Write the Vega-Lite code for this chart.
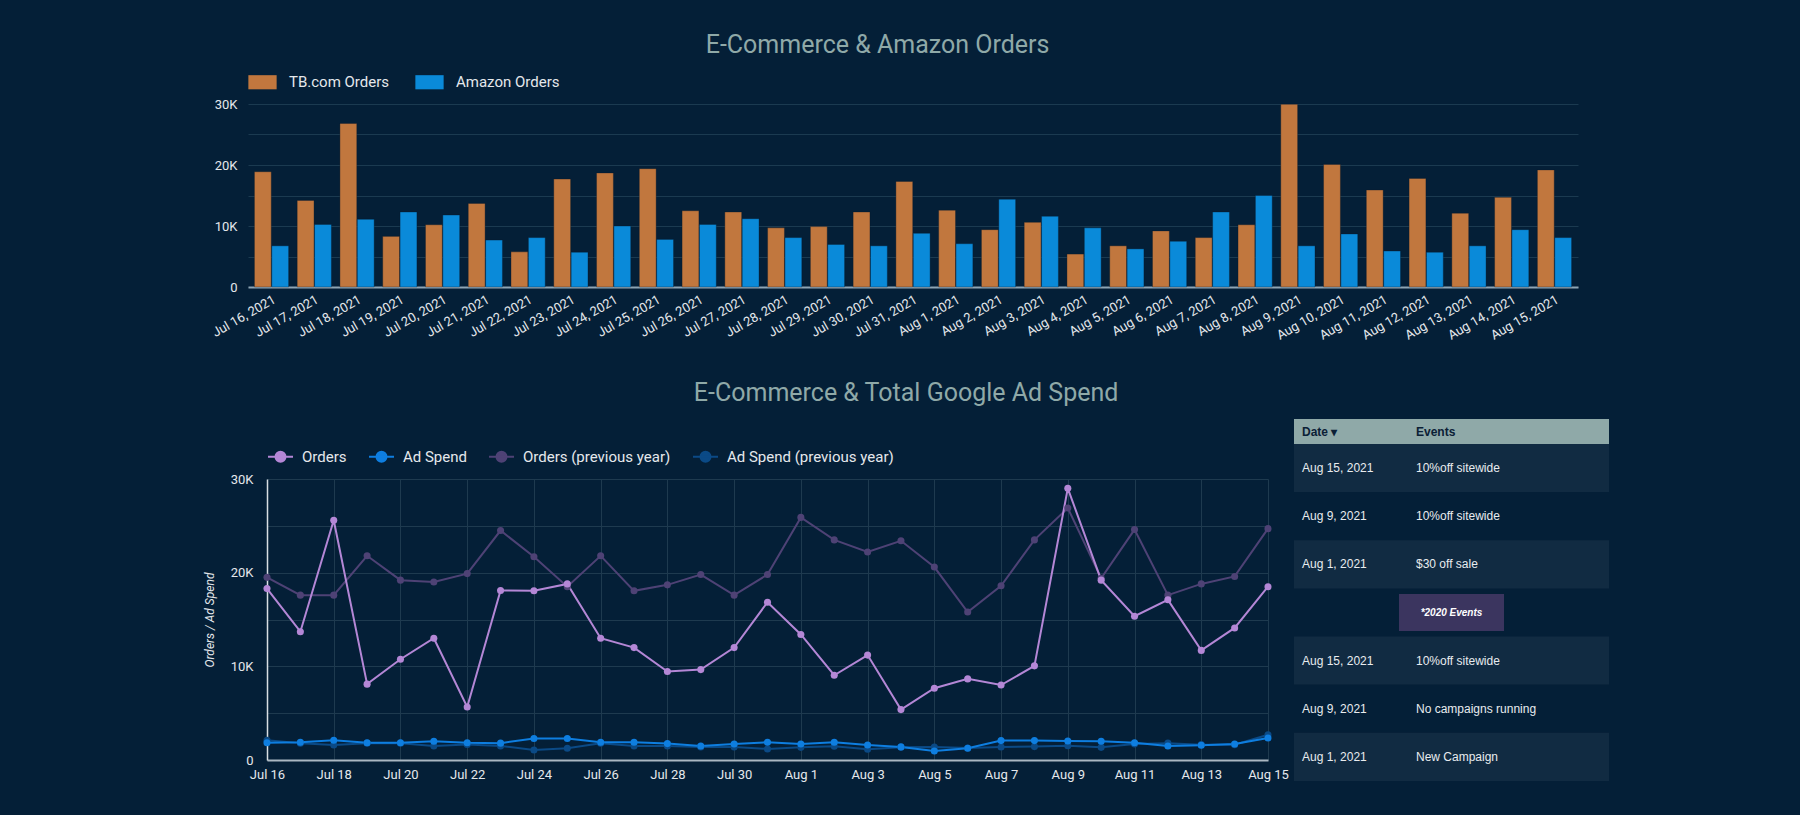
{
  "$schema": "https://vega.github.io/schema/vega-lite/v6.json",
  "background": "#041f37",
  "padding": {"left": 203, "top": 32, "right": 192, "bottom": 34},
  "config": {
    "font": "Roboto",
    "view": {"stroke": null},
    "axis": {"labelColor": "#e4e8ec", "labelFont": "Roboto", "labelFontSize": 13, "titleColor": "#e4e8ec", "titleFont": "Roboto", "ticks": false, "domain": false, "gridColor": "#1b3a50", "gridWidth": 1},
    "legend": {"labelColor": "#e4e8ec", "labelFontSize": 15, "labelFont": "Roboto", "labelLimit": 400},
    "title": {"color": "#8fa9a8", "fontSize": 25, "fontWeight": "normal", "font": "Roboto"}
  },
  "datasets": {
    "bars": [
      {"d": "Jul 16, 2021", "s": "TB.com Orders", "v": 18900}, {"d": "Jul 16, 2021", "s": "Amazon Orders", "v": 6750},
      {"d": "Jul 17, 2021", "s": "TB.com Orders", "v": 14200}, {"d": "Jul 17, 2021", "s": "Amazon Orders", "v": 10260},
      {"d": "Jul 18, 2021", "s": "TB.com Orders", "v": 26800}, {"d": "Jul 18, 2021", "s": "Amazon Orders", "v": 11100},
      {"d": "Jul 19, 2021", "s": "TB.com Orders", "v": 8300}, {"d": "Jul 19, 2021", "s": "Amazon Orders", "v": 12300},
      {"d": "Jul 20, 2021", "s": "TB.com Orders", "v": 10200}, {"d": "Jul 20, 2021", "s": "Amazon Orders", "v": 11800},
      {"d": "Jul 21, 2021", "s": "TB.com Orders", "v": 13700}, {"d": "Jul 21, 2021", "s": "Amazon Orders", "v": 7700},
      {"d": "Jul 22, 2021", "s": "TB.com Orders", "v": 5760}, {"d": "Jul 22, 2021", "s": "Amazon Orders", "v": 8100},
      {"d": "Jul 23, 2021", "s": "TB.com Orders", "v": 17700}, {"d": "Jul 23, 2021", "s": "Amazon Orders", "v": 5700},
      {"d": "Jul 24, 2021", "s": "TB.com Orders", "v": 18700}, {"d": "Jul 24, 2021", "s": "Amazon Orders", "v": 10000},
      {"d": "Jul 25, 2021", "s": "TB.com Orders", "v": 19400}, {"d": "Jul 25, 2021", "s": "Amazon Orders", "v": 7800},
      {"d": "Jul 26, 2021", "s": "TB.com Orders", "v": 12500}, {"d": "Jul 26, 2021", "s": "Amazon Orders", "v": 10260},
      {"d": "Jul 27, 2021", "s": "TB.com Orders", "v": 12300}, {"d": "Jul 27, 2021", "s": "Amazon Orders", "v": 11200},
      {"d": "Jul 28, 2021", "s": "TB.com Orders", "v": 9700}, {"d": "Jul 28, 2021", "s": "Amazon Orders", "v": 8100},
      {"d": "Jul 29, 2021", "s": "TB.com Orders", "v": 9900}, {"d": "Jul 29, 2021", "s": "Amazon Orders", "v": 6970},
      {"d": "Jul 30, 2021", "s": "TB.com Orders", "v": 12300}, {"d": "Jul 30, 2021", "s": "Amazon Orders", "v": 6750},
      {"d": "Jul 31, 2021", "s": "TB.com Orders", "v": 17300}, {"d": "Jul 31, 2021", "s": "Amazon Orders", "v": 8800},
      {"d": "Aug 1, 2021", "s": "TB.com Orders", "v": 12600}, {"d": "Aug 1, 2021", "s": "Amazon Orders", "v": 7100},
      {"d": "Aug 2, 2021", "s": "TB.com Orders", "v": 9400}, {"d": "Aug 2, 2021", "s": "Amazon Orders", "v": 14400},
      {"d": "Aug 3, 2021", "s": "TB.com Orders", "v": 10600}, {"d": "Aug 3, 2021", "s": "Amazon Orders", "v": 11600},
      {"d": "Aug 4, 2021", "s": "TB.com Orders", "v": 5400}, {"d": "Aug 4, 2021", "s": "Amazon Orders", "v": 9700},
      {"d": "Aug 5, 2021", "s": "TB.com Orders", "v": 6750}, {"d": "Aug 5, 2021", "s": "Amazon Orders", "v": 6250},
      {"d": "Aug 6, 2021", "s": "TB.com Orders", "v": 9200}, {"d": "Aug 6, 2021", "s": "Amazon Orders", "v": 7500},
      {"d": "Aug 7, 2021", "s": "TB.com Orders", "v": 8100}, {"d": "Aug 7, 2021", "s": "Amazon Orders", "v": 12300},
      {"d": "Aug 8, 2021", "s": "TB.com Orders", "v": 10200}, {"d": "Aug 8, 2021", "s": "Amazon Orders", "v": 15000},
      {"d": "Aug 9, 2021", "s": "TB.com Orders", "v": 29950}, {"d": "Aug 9, 2021", "s": "Amazon Orders", "v": 6750},
      {"d": "Aug 10, 2021", "s": "TB.com Orders", "v": 20100}, {"d": "Aug 10, 2021", "s": "Amazon Orders", "v": 8700},
      {"d": "Aug 11, 2021", "s": "TB.com Orders", "v": 15900}, {"d": "Aug 11, 2021", "s": "Amazon Orders", "v": 5900},
      {"d": "Aug 12, 2021", "s": "TB.com Orders", "v": 17800}, {"d": "Aug 12, 2021", "s": "Amazon Orders", "v": 5700},
      {"d": "Aug 13, 2021", "s": "TB.com Orders", "v": 12100}, {"d": "Aug 13, 2021", "s": "Amazon Orders", "v": 6750},
      {"d": "Aug 14, 2021", "s": "TB.com Orders", "v": 14700}, {"d": "Aug 14, 2021", "s": "Amazon Orders", "v": 9400},
      {"d": "Aug 15, 2021", "s": "TB.com Orders", "v": 19200}, {"d": "Aug 15, 2021", "s": "Amazon Orders", "v": 8100}
    ],
    "lines": [
      {"d": "Jul 16", "Orders": 18300, "Ad Spend": 1850, "Orders (previous year)": 19500, "Ad Spend (previous year)": 2100},
      {"d": "Jul 17", "Orders": 13700, "Ad Spend": 1900, "Orders (previous year)": 17600, "Ad Spend (previous year)": 1800},
      {"d": "Jul 18", "Orders": 25600, "Ad Spend": 2100, "Orders (previous year)": 17600, "Ad Spend (previous year)": 1600},
      {"d": "Jul 19", "Orders": 8100, "Ad Spend": 1850, "Orders (previous year)": 21800, "Ad Spend (previous year)": 1800},
      {"d": "Jul 20", "Orders": 10760, "Ad Spend": 1850, "Orders (previous year)": 19200, "Ad Spend (previous year)": 1800},
      {"d": "Jul 21", "Orders": 13000, "Ad Spend": 2000, "Orders (previous year)": 19000, "Ad Spend (previous year)": 1500},
      {"d": "Jul 22", "Orders": 5660, "Ad Spend": 1850, "Orders (previous year)": 19900, "Ad Spend (previous year)": 1650},
      {"d": "Jul 23", "Orders": 18100, "Ad Spend": 1800, "Orders (previous year)": 24500, "Ad Spend (previous year)": 1500},
      {"d": "Jul 24", "Orders": 18060, "Ad Spend": 2300, "Orders (previous year)": 21700, "Ad Spend (previous year)": 1070},
      {"d": "Jul 25", "Orders": 18800, "Ad Spend": 2300, "Orders (previous year)": 18500, "Ad Spend (previous year)": 1250},
      {"d": "Jul 26", "Orders": 13000, "Ad Spend": 1900, "Orders (previous year)": 21800, "Ad Spend (previous year)": 1800},
      {"d": "Jul 27", "Orders": 12000, "Ad Spend": 1900, "Orders (previous year)": 18060, "Ad Spend (previous year)": 1500},
      {"d": "Jul 28", "Orders": 9440, "Ad Spend": 1750, "Orders (previous year)": 18700, "Ad Spend (previous year)": 1500},
      {"d": "Jul 29", "Orders": 9650, "Ad Spend": 1500, "Orders (previous year)": 19800, "Ad Spend (previous year)": 1400},
      {"d": "Jul 30", "Orders": 12000, "Ad Spend": 1700, "Orders (previous year)": 17600, "Ad Spend (previous year)": 1400},
      {"d": "Jul 31", "Orders": 16850, "Ad Spend": 1900, "Orders (previous year)": 19800, "Ad Spend (previous year)": 1180},
      {"d": "Aug 1", "Orders": 13400, "Ad Spend": 1700, "Orders (previous year)": 25900, "Ad Spend (previous year)": 1350},
      {"d": "Aug 2", "Orders": 9050, "Ad Spend": 1900, "Orders (previous year)": 23500, "Ad Spend (previous year)": 1460},
      {"d": "Aug 3", "Orders": 11200, "Ad Spend": 1600, "Orders (previous year)": 22200, "Ad Spend (previous year)": 1140},
      {"d": "Aug 4", "Orders": 5380, "Ad Spend": 1400, "Orders (previous year)": 23400, "Ad Spend (previous year)": 1350},
      {"d": "Aug 5", "Orders": 7660, "Ad Spend": 960, "Orders (previous year)": 20600, "Ad Spend (previous year)": 1390},
      {"d": "Aug 6", "Orders": 8660, "Ad Spend": 1250, "Orders (previous year)": 15800, "Ad Spend (previous year)": 1280},
      {"d": "Aug 7", "Orders": 8000, "Ad Spend": 2070, "Orders (previous year)": 18600, "Ad Spend (previous year)": 1390},
      {"d": "Aug 8", "Orders": 10050, "Ad Spend": 2070, "Orders (previous year)": 23500, "Ad Spend (previous year)": 1430},
      {"d": "Aug 9", "Orders": 29000, "Ad Spend": 2030, "Orders (previous year)": 26900, "Ad Spend (previous year)": 1530},
      {"d": "Aug 10", "Orders": 19200, "Ad Spend": 2000, "Orders (previous year)": 19400, "Ad Spend (previous year)": 1350},
      {"d": "Aug 11", "Orders": 15350, "Ad Spend": 1850, "Orders (previous year)": 24600, "Ad Spend (previous year)": 1700},
      {"d": "Aug 12", "Orders": 17100, "Ad Spend": 1500, "Orders (previous year)": 17600, "Ad Spend (previous year)": 1800},
      {"d": "Aug 13", "Orders": 11700, "Ad Spend": 1570, "Orders (previous year)": 18800, "Ad Spend (previous year)": 1640},
      {"d": "Aug 14", "Orders": 14100, "Ad Spend": 1700, "Orders (previous year)": 19600, "Ad Spend (previous year)": 1640},
      {"d": "Aug 15", "Orders": 18500, "Ad Spend": 2350, "Orders (previous year)": 24700, "Ad Spend (previous year)": 2700}
    ],
    "events": [
      {"row": "1", "Date": "Aug 15, 2021", "Events": "10%off sitewide"},
      {"row": "2", "Date": "Aug 9, 2021", "Events": "10%off sitewide"},
      {"row": "3", "Date": "Aug 1, 2021", "Events": "$30 off sale"},
      {"row": "4", "Date": "Aug 15, 2021", "Events": "10%off sitewide"},
      {"row": "5", "Date": "Aug 9, 2021", "Events": "No campaigns running"},
      {"row": "6", "Date": "Aug 1, 2021", "Events": "New Campaign"}
    ]
  },
  "columns": 1,
  "spacing": 38,
  "resolve": {"scale": {"color": "independent"}, "legend": {"color": "independent"}},
  "concat": [
    {
      "name": "bc",
      "title": {"text": "E-Commerce & Amazon Orders", "anchor": "middle", "frame": "bounds", "dx": -26, "offset": 10},
      "width": 1311,
      "height": 183,
      "data": {"name": "bars"},
      "mark": {"type": "bar", "stroke": "#0b1a2a", "strokeOpacity": 0.5, "strokeWidth": 0.7},
      "encoding": {
        "x": {
          "field": "d", "type": "ordinal", "sort": null, "title": null,
          "scale": {"range": [-19, 1311], "paddingInner": 0.2, "paddingOuter": 0.15},
          "axis": {"labelAngle": -30, "labelAlign": "right", "labelBaseline": "top", "labelPadding": 6, "labelOverlap": false, "domain": true, "domainColor": "#8ea5b5", "domainWidth": 2, "grid": false}
        },
        "xOffset": {"field": "s", "type": "nominal", "sort": ["TB.com Orders", "Amazon Orders"], "scale": {"paddingInner": 0.03}},
        "y": {
          "field": "v", "type": "quantitative", "title": null,
          "scale": {"domain": [0, 30000], "nice": false},
          "axis": {"values": [0, 5000, 10000, 15000, 20000, 25000, 30000], "labelExpr": "datum.value === 0 ? '0' : (datum.value % 10000 === 0 ? (datum.value / 1000) + 'K' : '')", "labelPadding": 30, "grid": true}
        },
        "color": {
          "field": "s", "type": "nominal", "title": null,
          "scale": {"domain": ["TB.com Orders", "Amazon Orders"], "range": ["#c1773e", "#0a8ad9"]},
          "legend": {"orient": "none", "legendX": -19, "legendY": -36.5, "direction": "horizontal", "symbolType": "M-1,-0.5H1V0.5H-1Z", "symbolSize": 800, "symbolStrokeWidth": 0, "symbolOpacity": 1, "labelOffset": 12, "columnPadding": 25, "padding": 0}
        }
      }
    },
    {
      "title": {"text": "E-Commerce & Total Google Ad Spend", "anchor": "middle", "frame": "bounds", "offset": 10.5},
      "columns": 2,
      "spacing": 5,
      "resolve": {"scale": {"color": "independent"}, "legend": {"color": "independent"}},
      "concat": [
        {
          "vconcat": [
            {
              "width": 1001,
              "height": 1,
              "data": {"values": [{"a": 1}]},
              "mark": {"type": "point", "opacity": 0}
            },
            {
              "name": "lc",
              "width": 1001,
              "height": 281,
              "data": {"name": "lines"},
              "transform": [{"fold": ["Orders (previous year)", "Ad Spend (previous year)", "Orders", "Ad Spend"], "as": ["series", "value"]}],
              "mark": {"type": "line", "strokeWidth": 2, "point": {"filled": true, "size": 50, "opacity": 1}},
              "encoding": {
                "x": {
                  "field": "d", "type": "ordinal", "sort": null, "title": null,
                  "scale": {"type": "point", "padding": 0},
                  "axis": {"values": ["Jul 16", "Jul 18", "Jul 20", "Jul 22", "Jul 24", "Jul 26", "Jul 28", "Jul 30", "Aug 1", "Aug 3", "Aug 5", "Aug 7", "Aug 9", "Aug 11", "Aug 13", "Aug 15"], "labelAngle": 0, "labelPadding": 8, "grid": true, "gridColor": "#1e3a4f", "domain": true, "domainColor": "#aab7c2", "domainWidth": 2, "labelOverlap": false}
                },
                "y": {
                  "field": "value", "type": "quantitative", "title": "Orders / Ad Spend",
                  "scale": {"domain": [0, 30000], "nice": false},
                  "axis": {"values": [0, 5000, 10000, 15000, 20000, 25000, 30000], "labelExpr": "datum.value === 0 ? '0' : (datum.value % 10000 === 0 ? (datum.value / 1000) + 'K' : '')", "labelPadding": 14, "titleFontStyle": "italic", "titleFontWeight": "normal", "titleFontSize": 12, "titlePadding": 14, "domain": true, "domainColor": "#d8dee3", "domainWidth": 1.5, "grid": true, "gridColor": "#1e3a4f"}
                },
                "color": {
                  "field": "series", "type": "nominal", "title": null,
                  "scale": {"domain": ["Orders", "Ad Spend", "Orders (previous year)", "Ad Spend (previous year)"], "range": ["#b487d6", "#0e7ee0", "#4e4275", "#0b4a86"]},
                  "legend": {"orient": "top", "direction": "horizontal", "symbolType": "M-1,0H1M-0.4,0A0.4,0.4,0,1,1,0.4,0A0.4,0.4,0,1,1,-0.4,0Z", "symbolSize": 625, "symbolStrokeWidth": 2, "symbolOpacity": 1, "labelOffset": 8, "columnPadding": 18, "padding": 0, "offset": 13,
                    "encode": {"symbols": {"update": {"fill": {"scale": "lc_color", "field": "value"}}}}}
                }
              }
            }
          ],
          "spacing": 20,
          "resolve": {"scale": {"color": "independent"}, "legend": {"color": "independent"}}
        },
        {
          "vconcat": [
            {
              "width": 315,
              "height": 25,
              "view": {"fill": "#8fa9a8", "stroke": null},
              "data": {"values": [{"col": "Date", "t": "Date ▾"}, {"col": "Events", "t": "Events"}]},
              "mark": {"type": "text", "align": "left", "baseline": "middle", "font": "Liberation Sans", "fontSize": 12, "fontWeight": "bold", "color": "#0b2036"},
              "encoding": {
                "x": {"field": "col", "type": "nominal", "scale": {"type": "point", "domain": ["Date", "Events"], "range": [8, 122], "padding": 0}, "axis": null},
                "text": {"field": "t"}
              }
            },
            {
              "width": 315,
              "height": 337,
              "layer": [
                {
                  "data": {"name": "events"},
                  "mark": {"type": "rect"},
                  "encoding": {
                    "y": {"field": "row", "type": "nominal", "scale": {"domain": ["1", "2", "3", "L", "4", "5", "6"], "paddingInner": 0, "paddingOuter": 0}, "axis": null},
                    "color": {"field": "row", "type": "nominal", "scale": {"domain": ["1", "2", "3", "L", "4", "5", "6"], "range": ["#112b42", "#041f37", "#112b42", "#041f37", "#112b42", "#041f37", "#112b42"]}, "legend": null}
                  }
                },
                {
                  "data": {"name": "events"},
                  "transform": [{"fold": ["Date", "Events"], "as": ["col", "t"]}],
                  "mark": {"type": "text", "align": "left", "baseline": "middle", "font": "Liberation Sans", "fontSize": 12, "color": "#e8ecef"},
                  "encoding": {
                    "y": {"field": "row", "type": "nominal"},
                    "x": {"field": "col", "type": "nominal", "scale": {"type": "point", "domain": ["Date", "Events"], "range": [8, 122], "padding": 0}, "axis": null},
                    "text": {"field": "t"}
                  }
                },
                {
                  "data": {"values": [{"row": "L", "label": "*2020 Events"}]},
                  "mark": {"type": "point", "shape": "M-1,-0.352H1V0.352H-1Z", "size": 11025, "filled": true, "color": "#3b355f", "opacity": 1},
                  "encoding": {"y": {"field": "row", "type": "nominal"}}
                },
                {
                  "data": {"values": [{"row": "L", "label": "*2020 Events"}]},
                  "mark": {"type": "text", "fontStyle": "italic", "fontWeight": "bold", "fontSize": 10, "color": "#ffffff", "font": "Liberation Sans"},
                  "encoding": {"y": {"field": "row", "type": "nominal"}, "text": {"field": "label"}}
                }
              ]
            }
          ],
          "spacing": 0
        }
      ]
    }
  ]
}
